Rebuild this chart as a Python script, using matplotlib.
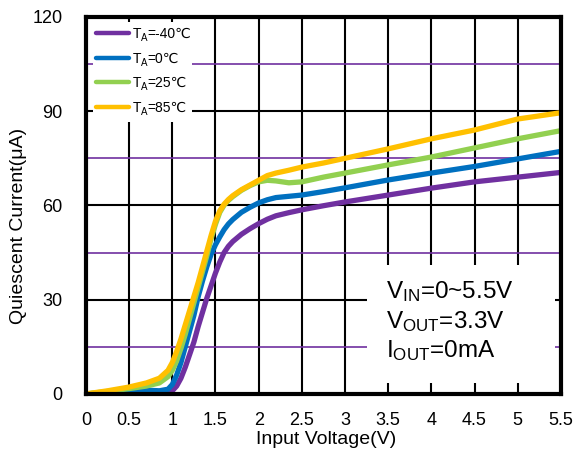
import matplotlib
matplotlib.use("Agg")
import matplotlib.pyplot as plt
from matplotlib.patches import Rectangle
from matplotlib.transforms import offset_copy

plt.rcParams['font.family'] = ['Liberation Sans', 'DejaVu Sans']
plt.rcParams['mathtext.fontset'] = 'custom'
plt.rcParams['mathtext.rm'] = 'Liberation Sans'
plt.rcParams['mathtext.it'] = 'Liberation Sans:italic'
plt.rcParams['mathtext.bf'] = 'Liberation Sans:bold'

# Input voltage sweep (V)
vin = [0, 0.25, 0.5, 0.7, 0.85, 0.95, 1.0, 1.05, 1.1, 1.15, 1.2, 1.25, 1.3,
       1.35, 1.4, 1.45, 1.5, 1.55, 1.6, 1.65, 1.7, 1.8, 1.9, 2.0, 2.1, 2.2, 2.35,
       2.5, 2.75, 3.0, 3.5, 4.0, 4.5, 5.0, 5.5]

# Quiescent current (uA) per ambient temperature
iq_m40 = [0, 0.3, 0.5, 0.3, -0.3, 0, 1, 2.5, 5, 8.5, 12.5, 16.5, 21.5,
          26, 30.5, 34.5, 38.5, 42, 45, 47, 48.5, 50.8, 52.6, 54.2, 55.6, 56.7, 57.7,
          58.6, 59.9, 61.1, 63.3, 65.5, 67.5, 69.0, 70.5]
iq_0 = [0, 0.5, 1.0, 1.2, 1.0, 1.5, 3, 6, 10, 15, 20, 25, 31,
        36, 40.5, 44.5, 47.5, 50, 52.3, 54.1, 55.5, 57.8, 59.4, 60.8, 61.8, 62.5, 62.9,
        63.3, 64.4, 65.6, 68.1, 70.3, 72.4, 74.8, 77.2]
iq_25 = [0, 0.8, 1.7, 2.5, 3.5, 5.5, 7.5, 10.5, 14.5, 19, 24, 29, 34,
         39, 44, 49.5, 54, 57.8, 60.1, 61.6, 62.8, 64.8, 66.3, 67.5, 68.0, 67.8, 67.2,
         67.5, 69.0, 70.3, 72.9, 75.4, 78.3, 81.2, 83.8]
iq_85 = [0, 1.0, 2.2, 3.5, 5.0, 7.5, 10, 13.5, 17.5, 22, 26.5, 31, 35.5,
         40.5, 45.5, 50.5, 55, 58.3, 60.4, 61.9, 63.1, 65, 66.5, 68, 69.5, 70.3, 71.2,
         72.2, 73.5, 75.0, 78.0, 81.2, 84.0, 87.5, 89.5]

series_labels = ['=-40℃', '=0℃', '=25℃', '=85℃']
series_values = [iq_m40, iq_0, iq_25, iq_85]
series_colors = ['#7030A0', '#0070C0', '#92D050', '#FFC000']

x_ticks = [0, 0.5, 1, 1.5, 2, 2.5, 3, 3.5, 4, 4.5, 5, 5.5]
x_tick_labels = ['0', '0.5', '1', '1.5', '2', '2.5', '3', '3.5', '4', '4.5', '5', '5.5']
y_ticks = [0, 30, 60, 90, 120]
y_minor = [15, 45, 75, 105]

conditions = [r'V$_{\mathrm{IN}}$=0~5.5V', r'V$_{\mathrm{OUT}}$=3.3V', r'I$_{\mathrm{OUT}}$=0mA']

fig = plt.figure(figsize=(5.77, 4.57), dpi=100)
ax = fig.add_axes([0.149, 0.138, 0.823, 0.825])
ax.set_xlim(0, 5.5)
ax.set_ylim(0, 120)

# Grid: black at major levels, purple at half steps
for xv in x_ticks[1:-1]:
    ax.axvline(xv, color='black', lw=1.5, zorder=1)
for yv in y_ticks[1:-1]:
    ax.axhline(yv, color='black', lw=1.5, zorder=1)
for yv in y_minor:
    ax.axhline(yv, color='#7030A0', lw=1.2, zorder=1)

# White panels behind the legend and the condition text
ax.add_patch(Rectangle((0.015, 0.721), 0.208, 0.266, transform=ax.transAxes,
                       facecolor='white', edgecolor='none', zorder=2))
ax.add_patch(Rectangle((0.592, 0.029), 0.395, 0.313, transform=ax.transAxes,
                       facecolor='white', edgecolor='none', zorder=2))

for vals, col in zip(series_values, series_colors):
    ax.plot(vin, vals, color=col, lw=3.8, solid_capstyle='round',
            solid_joinstyle='round', zorder=3)

# Legend entries: "T", subscript "A", then the temperature
leg_y = [0.958, 0.891, 0.827, 0.761]
leg_fs = 10
for yy, lab, col in zip(leg_y, series_labels, series_colors):
    ax.plot([0.021, 0.091], [yy, yy], transform=ax.transAxes, color=col,
            lw=3.2, solid_capstyle='round', zorder=4)
    base = offset_copy(ax.transAxes, fig=fig, x=0, y=-3.6, units='points')
    ax.text(0.099, yy, 'T', transform=base, fontsize=leg_fs, va='baseline', ha='left', zorder=4)
    sub = offset_copy(ax.transAxes, fig=fig, x=0.611 * leg_fs - 0.3, y=-3.6 - 2.3, units='points')
    ax.text(0.099, yy, 'A', transform=sub, fontsize=leg_fs * 0.7, va='baseline', ha='left', zorder=4)
    rest = offset_copy(ax.transAxes, fig=fig, x=0.611 * leg_fs - 0.3 + 0.667 * leg_fs * 0.7,
                       y=-3.6, units='points')
    ax.text(0.099, yy, lab, transform=rest, fontsize=leg_fs, va='baseline', ha='left', zorder=4)

for i, line in enumerate(conditions):
    ax.text(3.48, 30.6 - 9.5 * i, line, fontsize=17.5, va='baseline', ha='left', zorder=4)

ax.set_xticks(x_ticks)
ax.set_xticklabels(x_tick_labels)
ax.set_yticks(y_ticks)
ax.tick_params(axis='both', length=0, labelsize=13)
ax.tick_params(axis='x', pad=13)
ax.tick_params(axis='y', pad=17)

for sp in ax.spines.values():
    sp.set_linewidth(3)
    sp.set_color('black')
    sp.set_zorder(5)

ax.set_xlabel('Input Voltage(V)', fontsize=14)
ax.xaxis.set_label_coords(0.505, -0.097)
ax.set_ylabel('Quiescent Current(μA)', fontsize=14)
ax.yaxis.set_label_coords(-0.124, 0.446)

fig.savefig('out.png', dpi=100)
